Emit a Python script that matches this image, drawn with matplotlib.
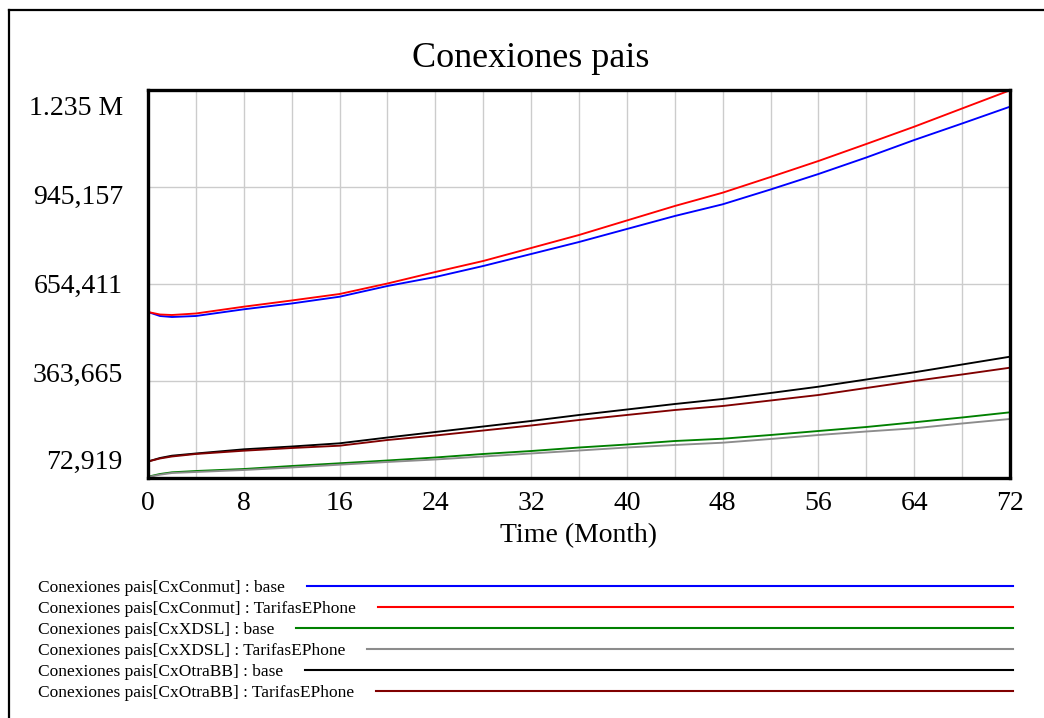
import matplotlib
matplotlib.use('Agg')
import matplotlib.pyplot as plt
from matplotlib.lines import Line2D
from matplotlib.transforms import ScaledTranslation

# ---------------- data ----------------
months = [0, 1, 2, 4, 8, 12, 16, 20, 24, 28, 32, 36, 40, 44, 48, 52, 56, 60, 64, 68, 72]

conmut_base = [570500, 558500, 555500, 558500, 578600, 596000, 616300, 648400, 675400, 708400,
               744300, 780300, 819300, 858200, 893300, 937700, 984100, 1033600, 1086000, 1135500, 1185900]
conmut_tarifas = [570500, 563000, 561500, 566000, 586400, 605000, 624400, 655900, 690400, 723400,
                  762300, 801300, 844800, 888200, 928100, 975100, 1023100, 1074100, 1125900, 1180500, 1235000]
xdsl_base = [76800, 84900, 90000, 93900, 99900, 108900, 117000, 125400, 134400, 144900,
             153800, 164300, 173300, 183800, 190700, 201800, 213800, 225800, 239900, 254300, 269800]
xdsl_tarifas = [75900, 82800, 87900, 90900, 96900, 104400, 112800, 120900, 128400, 137400,
                146400, 155300, 164300, 171800, 178700, 189800, 201800, 212300, 221900, 236300, 249800]
otrabb_base = [122400, 132900, 139800, 146400, 158900, 167300, 176900, 194300, 210800, 227300,
               243800, 261800, 278200, 294700, 309700, 327700, 346600, 368200, 389700, 413100, 436500]
otrabb_tarifas = [122400, 131400, 137400, 144900, 154700, 162800, 169700, 186800, 200300, 215300,
                  230300, 246800, 261800, 276700, 288700, 305200, 321700, 342700, 363700, 383200, 403500]

series_labels = [
    "Conexiones pais[CxConmut] : base",
    "Conexiones pais[CxConmut] : TarifasEPhone",
    "Conexiones pais[CxXDSL] : base",
    "Conexiones pais[CxXDSL] : TarifasEPhone",
    "Conexiones pais[CxOtraBB] : base",
    "Conexiones pais[CxOtraBB] : TarifasEPhone",
]
series_values = [conmut_base, conmut_tarifas, xdsl_base, xdsl_tarifas, otrabb_base, otrabb_tarifas]
series_colors = ["#0000ff", "#ff0000", "#008000", "#8c8c8c", "#000000", "#800000"]

y_ticks = [72919, 363665, 654411, 945157, 1235903]
y_tick_labels = ["72,919", "363,665", "654,411", "945,157", "1.235 M"]
x_ticks = [0, 8, 16, 24, 32, 40, 48, 56, 64, 72]
x_minor = [4, 12, 20, 28, 36, 44, 52, 60, 68]

title = "Conexiones pais"
x_label = "Time (Month)"

# ---------------- figure ----------------
W, H = 1044, 718
plt.rcParams['font.family'] = ['Liberation Serif', 'DejaVu Serif']
fig = plt.figure(figsize=(W / 100, H / 100), dpi=100)
fig.patch.set_facecolor('white')

def px(x, y):
    return x / W, 1 - y / H

# outer frame (top and left lines)
fig.add_artist(Line2D([9 / W, 1.0], [1 - 10 / H, 1 - 10 / H], color='black', lw=1.6))
fig.add_artist(Line2D([9 / W, 9 / W], [1 - 10 / H, 0.0], color='black', lw=1.6))

ax = fig.add_axes([148 / W, 1 - 478 / H, (1010 - 148) / W, (478 - 90) / H])
for vals, col in zip(series_values, series_colors):
    ax.plot(months, vals, color=col, lw=1.35, solid_joinstyle='round')

ax.set_xlim(0, 72)
ax.set_ylim(y_ticks[0], y_ticks[-1])
ax.set_xticks(x_ticks)
ax.set_xticks(x_minor, minor=True)
ax.set_yticks(y_ticks)
ax.set_xticklabels([str(v) for v in x_ticks])
ax.set_yticklabels(y_tick_labels)
ax.grid(True, which='both', color='#cccccc', lw=1.0)
ax.set_axisbelow(True)
ax.tick_params(which='both', length=0)
ax.tick_params(axis='x', labelsize=20, pad=9)
ax.tick_params(axis='y', labelsize=20, pad=18)
for s in ax.spines.values():
    s.set_linewidth(2.4)
    s.set_color('black')

# Vensim-style compressed y label placement
y_offsets_px = [16, 5.5, -2.5, -10.5, -18.8]
for lab, off in zip(ax.get_yticklabels(), y_offsets_px):
    lab.set_verticalalignment('center')
    lab.set_transform(lab.get_transform() + ScaledTranslation(0, off / 100, fig.dpi_scale_trans))

ax.set_xlabel(x_label, fontsize=20, labelpad=5.5)

tx, ty = px(531, 67)
fig.text(tx, ty, title, fontsize=26, ha='center', va='baseline')

# ---------------- legend ----------------
row_y = [586, 606.8, 628, 649, 670, 690.7]
fig.canvas.draw()
renderer = fig.canvas.get_renderer()
for lab, col, yy in zip(series_labels, series_colors, row_y):
    x0, y0 = px(38, yy + 6)
    t = fig.text(x0, y0, lab, fontsize=12.5, ha='left', va='baseline')
    bb = t.get_window_extent(renderer=renderer)
    start = bb.x1 + 22
    fig.add_artist(Line2D([start / W, 1013 / W], [1 - yy / H, 1 - yy / H], color=col, lw=1.5))

fig.savefig('out.png', dpi=100)
